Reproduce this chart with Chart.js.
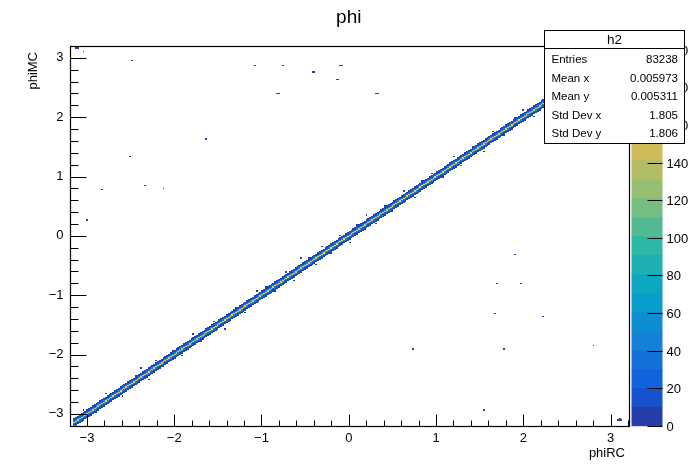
<!DOCTYPE html>
<html lang="en">
<head>
  <meta charset="UTF-8" />
  <title>phi</title>
  <script src="https://cdn.jsdelivr.net/npm/chart.js"></script>
  <style>
    body { margin: 0; background: #fff; }
    canvas { display: block; }
  </style>
</head>
<body>
  <canvas id="h2" width="698" height="473"></canvas>

  <script>
    // axis range and binning (both axes)
    const axisMin = -3.2;
    const axisMax = 3.2;
    const nBins = 300;
    const zMax = 202;
    const nContours = 20;

    const xTickValues = [-3, -2, -1, 0, 1, 2, 3];
    const yTickValues = [-3, -2, -1, 0, 1, 2, 3];
    const zTickValues = [0, 20, 40, 60, 80, 100, 120, 140, 160, 180, 200];

    // counts across the diagonal band, per y-bin offset from phiMC = phiRC
    const bandOffsets = [-3, -2, -1, 0, 1, 2, 3];
    const bandCounts = [4, 14, 42, 160, 42, 14, 4];

    // band along phiRC in 0.4 wide pieces: peak height
    const segmentStart = [-3.2, -2.8, -2.4, -2.0, -1.6, -1.2, -0.8, -0.4, 0.0, 0.4, 0.8, 1.2, 1.6, 2.0, 2.4, 2.8];
    const segmentPeak = [150, 165, 170, 160, 175, 165, 170, 180, 160, 170, 175, 165, 170, 160, 175, 150];

    // single entries just outside the band: phiRC and y-bin offset from the diagonal
    const speckX = [-3.05, -2.90, -2.78, -2.60, -2.45, -2.38, -2.30, -2.20, -2.12, -2.02, -1.90, -1.78, -1.70, -1.55, -1.42,
                    -1.30, -1.18, -1.05, -0.95, -0.85, -0.72, -0.62, -0.55, -0.45, -0.38, -0.30, -0.20, -0.10, 0.02, 0.10,
                    0.20, 0.30, 0.42, 0.50, 0.62, 0.75, 0.85, 0.95, 1.08, 1.20, 1.30, 1.42, 1.55, 1.65, 1.78,
                    1.90, 2.00, 2.12, 2.25, 2.40];
    const speckD = [5, -4, 6, -5, 4, 7, -6, 5, -4, 4, -5, 6, -4, 5, -7, 4, -5, 6, 4, -4, 5, -6, 8, 4, -5,
                    6, -4, 5, -6, 4, 7, -5, 4, -4, 6, -5, 4, 5, -4, 6, -5, 4, -6, 5, -4, 4, 6, -5, 4, -4];

    // isolated cells away from the diagonal
    const strayX = [-3.13, -3.11, -3.03, -2.49, -1.08, -0.76, -0.42, -0.40, -0.10, -0.08, -0.13, -0.11, -0.83, -0.81, 0.31, 0.33,
                    -1.64, -2.51, -2.33, -2.12, -2.83, -3.00, 1.91, 1.98, 1.70, 1.67, 2.24, 0.74, 1.79, 2.80, 1.54,
                    3.09, 3.11, 3.13, 3.11];
    const strayY = [3.16, 3.16, 3.10, 2.96, 2.86, 2.86, 2.77, 2.77, 2.88, 2.88, 2.64, 2.64, 2.39, 2.39, 2.40, 2.40,
                    1.64, 1.34, 0.85, 0.81, 0.78, 0.27, -0.30, -0.80, -0.81, -1.32, -1.35, -1.90, -1.91, -1.84, -2.93,
                    -3.11, -3.11, -3.11, -3.09];
    const strayN = [2, 1, 1, 1, 1, 1, 1, 1, 1, 1, 1, 1, 1, 1, 1, 1,
                    1, 1, 1, 1, 1, 1, 1, 1, 1, 1, 1, 1, 1, 1, 1,
                    3, 4, 2, 1];

    const statsLabels = ['Entries', 'Mean x', 'Mean y', 'Std Dev x', 'Std Dev y'];
    const statsValues = ['83238', '0.005973', '0.005311', '1.805', '1.806'];

    const binW = (axisMax - axisMin) / nBins;
    const binOf = v => Math.floor((v - axisMin) / binW);

    // ROOT kBird palette
    const birdStops = [0.0, 0.125, 0.25, 0.375, 0.5, 0.625, 0.75, 0.875, 1.0];
    const birdR = [0.2082, 0.0592, 0.0780, 0.0232, 0.1802, 0.5301, 0.8186, 0.9956, 0.9764];
    const birdG = [0.1664, 0.3599, 0.5041, 0.6419, 0.7178, 0.7492, 0.7328, 0.7862, 0.9832];
    const birdB = [0.5293, 0.8684, 0.8385, 0.7914, 0.6425, 0.4662, 0.3499, 0.1968, 0.0539];

    function birdColor(f) {
      f = Math.min(1, Math.max(0, f));
      let k = 0;
      while (k < birdStops.length - 2 && f > birdStops[k + 1]) k++;
      const t = (f - birdStops[k]) / (birdStops[k + 1] - birdStops[k]);
      const mix = a => Math.round(255 * (a[k] + t * (a[k + 1] - a[k])));
      return `rgb(${mix(birdR)},${mix(birdG)},${mix(birdB)})`;
    }

    const bandColors = [];
    for (let i = 0; i < nContours; i++) bandColors.push(birdColor((i + 0.99) / nContours));

    function colorFor(v) {
      const band = Math.min(nContours - 1, Math.floor(0.01 + v * nContours / zMax));
      return bandColors[band];
    }

    // build the cell list from the arrays above
    const cellMap = new Map();
    function addCell(i, j, n) {
      if (i < 0 || j < 0 || i >= nBins || j >= nBins || n <= 0) return;
      const key = i * nBins + j;
      cellMap.set(key, (cellMap.get(key) || 0) + n);
    }
    const first = binOf(-Math.PI), last = binOf(Math.PI);
    for (let i = first; i <= last; i++) {
      const xc = axisMin + (i + 0.5) * binW;
      let s = segmentStart.length - 1;
      while (s > 0 && xc < segmentStart[s]) s--;
      bandOffsets.forEach((k, idx) => {
        addCell(i, i + k, k === 0 ? segmentPeak[s] : bandCounts[idx]);
      });
    }
    speckX.forEach((x, idx) => { const i = binOf(x); addCell(i, i + speckD[idx], 1); });
    strayX.forEach((x, idx) => addCell(binOf(x), binOf(strayY[idx]), strayN[idx]));

    const cells = [];
    cellMap.forEach((n, key) => {
      const i = Math.floor(key / nBins), j = key % nBins;
      cells.push({ x: axisMin + i * binW, y: axisMin + j * binW, v: n });
    });

    const font = 'Liberation Sans, Arial, Helvetica, sans-serif';
    const minus = v => String(v).replace('-', '\u2212');

    const th2Plugin = {
      id: 'th2',
      beforeDatasetsDraw(chart) {
        const { ctx, chartArea: a, scales: { x, y } } = chart;
        ctx.save();
        ctx.beginPath();
        ctx.rect(a.left, a.top, a.right - a.left, a.bottom - a.top);
        ctx.clip();
        chart.data.datasets[0].data.forEach(c => {
          const l = Math.round(x.getPixelForValue(c.x));
          const r = Math.round(x.getPixelForValue(c.x + binW));
          const t = Math.round(y.getPixelForValue(c.y + binW));
          const b = Math.round(y.getPixelForValue(c.y));
          ctx.fillStyle = colorFor(c.v);
          ctx.fillRect(l, t, Math.max(1, r - l), Math.max(1, b - t));
        });
        ctx.restore();
      },
      afterDraw(chart) {
        const { ctx, chartArea: a, scales: { x, y, z } } = chart;
        ctx.save();

        // palette axis
        const barL = a.right + 3.5, barR = barL + 31;
        for (let i = 0; i < nContours; i++) {
          const top = z.getPixelForValue((i + 1) * zMax / nContours);
          const bot = z.getPixelForValue(i * zMax / nContours);
          ctx.fillStyle = bandColors[i];
          ctx.fillRect(barL, top, barR - barL, bot - top + 0.5);
        }
        ctx.strokeStyle = '#000';
        ctx.lineWidth = 1;
        ctx.fillStyle = '#000';
        ctx.font = `13px ${font}`;
        ctx.textAlign = 'left';
        ctx.textBaseline = 'middle';
        zTickValues.forEach(v => {
          const py = Math.round(z.getPixelForValue(v)) + 0.5;
          ctx.beginPath();
          ctx.moveTo(barR - 15, py);
          ctx.lineTo(barR, py);
          ctx.stroke();
          ctx.fillText(String(v), barR + 4, py + 1);
        });

        // frame
        ctx.lineWidth = 1.2;
        ctx.strokeRect(Math.round(a.left) + 0.5, Math.round(a.top) + 0.5,
          Math.round(a.right - a.left), Math.round(a.bottom - a.top));

        // inward ticks
        ctx.lineWidth = 1;
        const bottom = Math.round(a.bottom) + 0.5, left = Math.round(a.left) + 0.5;
        for (let v = -3.2; v <= 3.2001; v += 0.2) {
          const major = Math.abs(v - Math.round(v)) < 1e-6;
          const px = Math.round(x.getPixelForValue(v)) + 0.5;
          ctx.beginPath();
          ctx.moveTo(px, bottom);
          ctx.lineTo(px, bottom - (major ? 12 : 6));
          ctx.stroke();
          const py = Math.round(y.getPixelForValue(v)) + 0.5;
          ctx.beginPath();
          ctx.moveTo(left, py);
          ctx.lineTo(left + (major ? 16 : 8), py);
          ctx.stroke();
        }

        // titles
        ctx.font = `19px ${font}`;
        ctx.textAlign = 'center';
        ctx.textBaseline = 'middle';
        ctx.fillText('phi', (a.left + a.right) / 2, 18);
        ctx.font = `13px ${font}`;
        ctx.textAlign = 'right';
        ctx.fillText('phiRC', a.right - 3, 453);
        ctx.save();
        ctx.translate(33, a.top + 6);
        ctx.rotate(-Math.PI / 2);
        ctx.textAlign = 'right';
        ctx.fillText('phiMC', 0, 0);
        ctx.restore();

        // stats box
        const sx = 544.5, sy = 30.5, sw = 140, sh = 113;
        ctx.fillStyle = '#fff';
        ctx.fillRect(sx, sy, sw, sh);
        ctx.strokeStyle = '#000';
        ctx.lineWidth = 1;
        ctx.strokeRect(sx, sy, sw, sh);
        ctx.beginPath();
        ctx.moveTo(sx, 48.5);
        ctx.lineTo(sx + sw, 48.5);
        ctx.stroke();
        ctx.fillStyle = '#000';
        ctx.font = `13.5px ${font}`;
        ctx.textAlign = 'center';
        ctx.fillText('h2', sx + sw / 2, 40.5);
        ctx.font = `11.5px ${font}`;
        const rows = [60, 78.5, 96.5, 115.5, 134];
        statsLabels.forEach((lab, k) => {
          ctx.textAlign = 'left';
          ctx.fillText(lab, 551.5, rows[k]);
          ctx.textAlign = 'right';
          ctx.fillText(statsValues[k], 678, rows[k]);
        });
        ctx.restore();
      }
    };

    new Chart(document.getElementById('h2').getContext('2d'), {
      type: 'scatter',
      data: { datasets: [{ label: 'h2', data: cells, pointRadius: 0, pointHoverRadius: 0 }] },
      options: {
        responsive: false,
        animation: false,
        events: [],
        layout: { padding: { left: 39.5, top: 46, right: 70, bottom: 17.3 } },
        plugins: { legend: { display: false }, tooltip: { enabled: false }, title: { display: false } },
        scales: {
          x: {
            type: 'linear', min: axisMin, max: axisMax,
            grid: { display: false, drawTicks: false }, border: { display: false },
            afterBuildTicks: s => { s.ticks = xTickValues.map(v => ({ value: v })); },
            afterFit: s => { s.height = 30; },
            ticks: { color: '#000', font: { family: font, size: 13 }, padding: 5, maxRotation: 0, callback: minus }
          },
          y: {
            type: 'linear', min: axisMin, max: axisMax,
            grid: { display: false, drawTicks: false }, border: { display: false },
            afterBuildTicks: s => { s.ticks = yTickValues.map(v => ({ value: v })); },
            afterFit: s => { s.width = 30; },
            ticks: { color: '#000', font: { family: font, size: 13 }, padding: 6, callback: minus }
          },
          z: {
            type: 'linear', axis: 'y', position: 'right', display: false, min: 0, max: zMax
          }
        }
      },
      plugins: [th2Plugin]
    });
  </script>
</body>
</html>
